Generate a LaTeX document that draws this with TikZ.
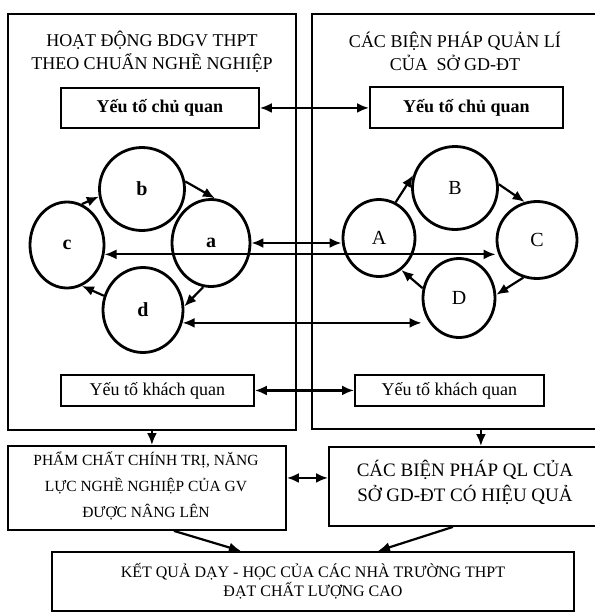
\documentclass[tikz,border=0pt]{standalone}
\usepackage{fontspec}
\setmainfont{Liberation Serif}
\usetikzlibrary{arrows.meta,shapes.geometric}
\begin{document}
\begin{tikzpicture}[x=1pt,y=-1pt,
  box/.style={draw, line width=1.9pt, rectangle, inner sep=0pt, anchor=north west},
  circ/.style={draw, line width=2.8pt, ellipse, inner sep=0pt},
  arr/.style={-{Latex[length=12pt,width=10pt]}, line width=2.2pt},
  darr/.style={{Latex[length=12pt,width=10pt]}-{Latex[length=12pt,width=10pt]}, line width=2.2pt},
  ttl/.style={align=center, font=\fontsize{18}{23}\selectfont},
  ycq/.style={font=\fontsize{18}{20}\selectfont\bfseries},
  ykq/.style={font=\fontsize{18}{20}\selectfont},
  lc/.style={font=\fontsize{20}{20}\selectfont\bfseries},
  uc/.style={font=\fontsize{20}{20}\selectfont}]
\useasboundingbox (0,0) rectangle (595,614);

% big boxes
\node[box, minimum width=288pt, minimum height=416pt] (lb) at (7,13) {};
\node[box, minimum width=314pt, minimum height=415pt] (rb) at (311,13) {};
\node[ttl] (lt) at (152,51.5) {HOẠT ĐỘNG BDGV THPT\\THEO CHUẨN NGHỀ NGHIỆP};
\node[ttl] (rt) at (455,51.5) {CÁC BIỆN PHÁP QUẢN LÍ\\CỦA\ \ SỞ GD-ĐT};

% subjective factors
\node[box, minimum width=198pt, minimum height=40pt] (yl) at (60,87) {};
\node[ycq] at (yl.center) {Yếu tố chủ quan};
\node[box, minimum width=193pt, minimum height=41pt] (yr) at (369,86) {};
\node[ycq] at (yr.center) {Yếu tố chủ quan};
\draw[darr] (yl.east) -- (yl.east -| yr.west);

% left cycle
\node[circ, lc, minimum width=85pt, minimum height=83pt] (b) at (142,189) {b};
\node[circ, lc, minimum width=74pt, minimum height=86pt] (c) at (67,245) {c};
\node[circ, lc, minimum width=78pt, minimum height=87pt] (a) at (211,243) {a};
\node[circ, lc, minimum width=80pt, minimum height=85pt] (d) at (143,310) {d};
\draw[arr] (c.70) -- (b.190);
\draw[arr] (b.10) -- (a.85);
\draw[arr] (a.260) -- (d.5);
\draw[arr] (d.160) -- (c.290);

% right cycle
\node[circ, uc, minimum width=72pt, minimum height=77pt] (A) at (379,238) {A};
\node[circ, uc, minimum width=85pt, minimum height=83pt] (B) at (455,188) {B};
\node[circ, uc, minimum width=80pt, minimum height=77pt] (C) at (537,240) {C};
\node[circ, uc, minimum width=72pt, minimum height=79pt] (D) at (459,298) {D};
\draw[arr] (A.65) -- (B.163);
\draw[arr] (B.5) -- (C.108);
\draw[arr] (C.250) -- (D.5);
\draw[arr] (D.165) -- (A.305);

% cross links
\draw[darr] (a.east) -- (a.east -| A.west);
\draw[darr] (c.-14) -- (c.-14 -| C.west);
\draw[darr] (d.-18) -- (d.-18 -| D.west);

% objective factors
\node[box, minimum width=193pt, minimum height=31pt] (kl) at (60,374) {};
\node[ykq] at (kl.center) {Yếu tố khách quan};
\node[box, minimum width=189pt, minimum height=31pt] (kr) at (354,374) {};
\node[ykq] at (kr.center) {Yếu tố khách quan};
\draw[darr] (kl.east) -- (kl.east -| kr.west);

% results
\node[box, minimum width=278pt, minimum height=84pt] (pham) at (7,445) {};
\node[align=center, font=\fontsize{15.5}{26}\selectfont] at (146,486) {PHẨM CHẤT CHÍNH TRỊ, NĂNG\\LỰC NGHỀ NGHIỆP CỦA GV\\ĐƯỢC NÂNG LÊN};
\node[box, minimum width=274pt, minimum height=79pt] (cac) at (328,446) {};
\node[align=center, font=\fontsize{19}{25}\selectfont] at (465,482) {CÁC BIỆN PHÁP QL CỦA\\SỞ GD-ĐT CÓ HIỆU QUẢ};
\node[box, minimum width=522pt, minimum height=59pt] (ket) at (51,551) {};
\node[align=center, font=\fontsize{16}{19}\selectfont] at (313,581) {KẾT QUẢ DẠY - HỌC CỦA CÁC NHÀ TRƯỜNG THPT\\ĐẠT CHẤT LƯỢNG CAO};

\draw[arr] (lb.south) -- (lb.south |- pham.north);
\coordinate (r1) at ([xshift=12pt]rb.south);
\draw[arr] (r1) -- (r1 |- cac.north);
\coordinate (p1) at ([yshift=10pt]pham.east);
\draw[darr] (p1) -- (p1 -| cac.west);
\draw[arr] ([xshift=27pt]pham.south) -- ([xshift=-72pt]ket.north);
\draw[arr] ([xshift=-13pt]cac.south) -- ([xshift=65pt]ket.north);
\end{tikzpicture}
\end{document}
